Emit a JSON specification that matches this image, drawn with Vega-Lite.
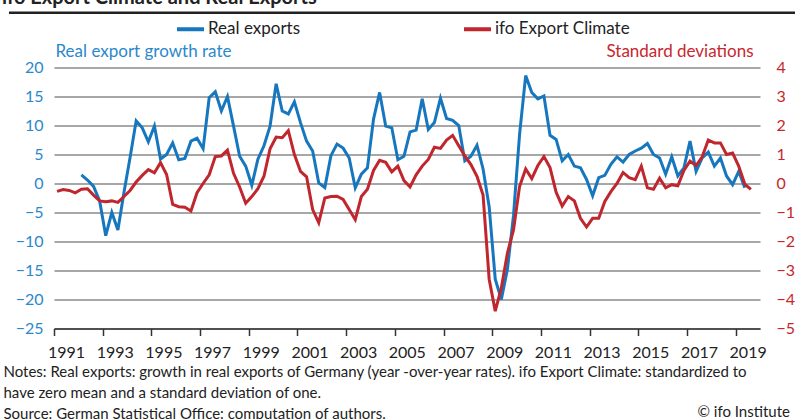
{
  "$schema": "https://vega.github.io/schema/vega-lite/v6.json",
  "width": 706,
  "height": 261,
  "autosize": {"type": "none"},
  "padding": {"left": 54, "top": 67.5, "right": 35, "bottom": 90.5},
  "background": "white",
  "config": {"font": "Lato", "view": {"stroke": null}, "axis": {"labelOverlap": false}},
  "datasets": {
    "series": [
    {"t": 1991.125, "clim": -0.27},
    {"t": 1991.375, "clim": -0.21},
    {"t": 1991.625, "clim": -0.24},
    {"t": 1991.875, "clim": -0.32},
    {"t": 1992.125, "exp": 1.5, "clim": -0.2},
    {"t": 1992.375, "exp": 0.6, "clim": -0.18},
    {"t": 1992.625, "exp": -0.5, "clim": -0.4},
    {"t": 1992.875, "exp": -3.0, "clim": -0.6},
    {"t": 1993.125, "exp": -9.0, "clim": -0.63},
    {"t": 1993.375, "exp": -5.0, "clim": -0.6},
    {"t": 1993.625, "exp": -8.0, "clim": -0.65},
    {"t": 1993.875, "exp": -1.5, "clim": -0.45},
    {"t": 1994.125, "exp": 4.5, "clim": -0.24},
    {"t": 1994.375, "exp": 10.8, "clim": 0.05},
    {"t": 1994.625, "exp": 9.6, "clim": 0.28},
    {"t": 1994.875, "exp": 7.2, "clim": 0.48},
    {"t": 1995.125, "exp": 9.9, "clim": 0.37},
    {"t": 1995.375, "exp": 4.2, "clim": 0.72},
    {"t": 1995.625, "exp": 5.0, "clim": 0.31},
    {"t": 1995.875, "exp": 7.0, "clim": -0.72},
    {"t": 1996.125, "exp": 4.1, "clim": -0.8},
    {"t": 1996.375, "exp": 4.3, "clim": -0.82},
    {"t": 1996.625, "exp": 7.3, "clim": -0.95},
    {"t": 1996.875, "exp": 7.8, "clim": -0.32},
    {"t": 1997.125, "exp": 6.0, "clim": 0.0},
    {"t": 1997.375, "exp": 14.8, "clim": 0.3},
    {"t": 1997.625, "exp": 15.8, "clim": 0.93},
    {"t": 1997.875, "exp": 12.5, "clim": 0.95},
    {"t": 1998.125, "exp": 15.0, "clim": 1.15},
    {"t": 1998.375, "exp": 9.9, "clim": 0.35},
    {"t": 1998.625, "exp": 4.7, "clim": -0.12},
    {"t": 1998.875, "exp": 3.0, "clim": -0.68},
    {"t": 1999.125, "exp": -0.3, "clim": -0.45},
    {"t": 1999.375, "exp": 4.2, "clim": -0.18},
    {"t": 1999.625, "exp": 6.5, "clim": 0.25},
    {"t": 1999.875, "exp": 9.9, "clim": 1.2},
    {"t": 2000.125, "exp": 17.2, "clim": 1.6},
    {"t": 2000.375, "exp": 12.5, "clim": 1.58},
    {"t": 2000.625, "exp": 12.0, "clim": 1.82},
    {"t": 2000.875, "exp": 14.1, "clim": 1.0},
    {"t": 2001.125, "exp": 10.5, "clim": 0.42},
    {"t": 2001.375, "exp": 7.3, "clim": 0.23},
    {"t": 2001.625, "exp": 5.6, "clim": -0.9},
    {"t": 2001.875, "exp": 0.1, "clim": -1.35},
    {"t": 2002.125, "exp": -0.7, "clim": -0.5},
    {"t": 2002.375, "exp": 4.8, "clim": -0.45},
    {"t": 2002.625, "exp": 6.8, "clim": -0.44},
    {"t": 2002.875, "exp": 6.1, "clim": -0.55},
    {"t": 2003.125, "exp": 4.4, "clim": -0.9},
    {"t": 2003.375, "exp": -0.75, "clim": -1.25},
    {"t": 2003.625, "exp": 1.6, "clim": -0.45},
    {"t": 2003.875, "exp": 2.7, "clim": -0.2},
    {"t": 2004.125, "exp": 11.1, "clim": 0.45},
    {"t": 2004.375, "exp": 15.7, "clim": 0.8},
    {"t": 2004.625, "exp": 9.9, "clim": 0.73},
    {"t": 2004.875, "exp": 9.6, "clim": 0.4},
    {"t": 2005.125, "exp": 4.1, "clim": 0.6},
    {"t": 2005.375, "exp": 4.7, "clim": 0.1},
    {"t": 2005.625, "exp": 8.9, "clim": -0.12},
    {"t": 2005.875, "exp": 9.2, "clim": 0.3},
    {"t": 2006.125, "exp": 14.6, "clim": 0.6},
    {"t": 2006.375, "exp": 9.3, "clim": 0.83},
    {"t": 2006.625, "exp": 10.5, "clim": 1.25},
    {"t": 2006.875, "exp": 14.7, "clim": 1.21},
    {"t": 2007.125, "exp": 11.2, "clim": 1.5},
    {"t": 2007.375, "exp": 10.9, "clim": 1.66},
    {"t": 2007.625, "exp": 10.0, "clim": 1.3},
    {"t": 2007.875, "exp": 3.9, "clim": 0.95},
    {"t": 2008.125, "exp": 4.7, "clim": 0.65},
    {"t": 2008.375, "exp": 6.6, "clim": 0.25},
    {"t": 2008.625, "exp": 2.5, "clim": -0.4},
    {"t": 2008.875, "exp": -4.0, "clim": -3.3},
    {"t": 2009.125, "exp": -16.5, "clim": -4.4},
    {"t": 2009.375, "exp": -20.0, "clim": -3.6},
    {"t": 2009.625, "exp": -14.8, "clim": -2.4},
    {"t": 2009.875, "exp": -5.5, "clim": -1.6},
    {"t": 2010.125, "exp": 8.5, "clim": -0.1},
    {"t": 2010.375, "exp": 18.6, "clim": 0.5},
    {"t": 2010.625, "exp": 15.7, "clim": 0.17},
    {"t": 2010.875, "exp": 14.6, "clim": 0.62},
    {"t": 2011.125, "exp": 15.1, "clim": 0.93},
    {"t": 2011.375, "exp": 8.3, "clim": 0.55},
    {"t": 2011.625, "exp": 7.6, "clim": -0.3},
    {"t": 2011.875, "exp": 3.9, "clim": -0.78},
    {"t": 2012.125, "exp": 5.0, "clim": -0.45},
    {"t": 2012.375, "exp": 3.0, "clim": -0.6},
    {"t": 2012.625, "exp": 2.7, "clim": -1.2},
    {"t": 2012.875, "exp": 0.7, "clim": -1.5},
    {"t": 2013.125, "exp": -2.1, "clim": -1.2},
    {"t": 2013.375, "exp": 1.0, "clim": -1.2},
    {"t": 2013.625, "exp": 1.4, "clim": -0.62},
    {"t": 2013.875, "exp": 3.3, "clim": -0.28},
    {"t": 2014.125, "exp": 4.6, "clim": 0.0},
    {"t": 2014.375, "exp": 3.7, "clim": 0.38},
    {"t": 2014.625, "exp": 5.0, "clim": 0.2},
    {"t": 2014.875, "exp": 5.6, "clim": 0.13},
    {"t": 2015.125, "exp": 6.1, "clim": 0.6},
    {"t": 2015.375, "exp": 6.9, "clim": -0.15},
    {"t": 2015.625, "exp": 5.0, "clim": -0.2},
    {"t": 2015.875, "exp": 4.4, "clim": 0.18},
    {"t": 2016.125, "exp": 1.6, "clim": -0.15},
    {"t": 2016.375, "exp": 4.6, "clim": -0.04},
    {"t": 2016.625, "exp": 1.3, "clim": -0.08},
    {"t": 2016.875, "exp": 2.7, "clim": 0.45},
    {"t": 2017.125, "exp": 7.3, "clim": 0.77},
    {"t": 2017.375, "exp": 2.1, "clim": 0.62},
    {"t": 2017.625, "exp": 4.4, "clim": 0.92},
    {"t": 2017.875, "exp": 5.4, "clim": 1.5},
    {"t": 2018.125, "exp": 3.0, "clim": 1.4},
    {"t": 2018.375, "exp": 4.4, "clim": 1.4},
    {"t": 2018.625, "exp": 1.3, "clim": 1.0},
    {"t": 2018.875, "exp": -0.2, "clim": 1.05},
    {"t": 2019.125, "exp": 2.1, "clim": 0.6},
    {"t": 2019.375, "exp": -0.75, "clim": -0.02},
    {"t": 2019.625, "clim": -0.2}
    ],
    "copyright": [{"label": "© ifo Institute"}],
    "heading": [{"label": "ifo Export Climate and Real Exports"}]
  },
  "data": {"name": "series"},
  "layer": [
    {
      "mark": {"type": "line", "strokeWidth": 3},
      "encoding": {
        "x": {
          "field": "t", "type": "quantitative",
          "scale": {"domain": [1991, 2020], "nice": false, "zero": false},
          "axis": {
            "values": [1991,1992,1993,1994,1995,1996,1997,1998,1999,2000,2001,2002,2003,2004,2005,2006,2007,2008,2009,2010,2011,2012,2013,2014,2015,2016,2017,2018,2019,2020],
            "labelExpr": "(datum.value % 2 == 1 && datum.value < 2020) ? toString(datum.value) : ''",
            "labelOffset": 12,
            "labelFlush": false,
            "labelOverlap": false,
            "labelBound": false,
            "labelFontSize": 16,
            "labelColor": "#222222",
            "labelPadding": 9,
            "tickColor": "#333333",
            "tickSize": 7,
            "tickWidth": 1.5,
            "domainColor": "#333333",
            "domainWidth": 1.5,
            "grid": false,
            "title": ["Notes: Real exports: growth in real exports of Germany (year -over-year rates). ifo Export Climate: standardized to", "have zero mean and a standard deviation of one.", "Source: German Statistical Office: computation of authors."],
            "titleAnchor": "start",
            "titleAlign": "left",
            "titleX": -51,
            "titleY": 48,
            "titleBaseline": "alphabetic",
            "titleFontSize": 15,
            "titleFontWeight": "normal",
            "titleColor": "#222222",
            "titleLineHeight": 21
          }
        },
        "y": {
          "field": "exp", "type": "quantitative",
          "scale": {"domain": [-25, 20], "nice": false, "zero": false},
          "axis": {
            "orient": "left",
            "values": [-25,-20,-15,-10,-5,0,5,10,15,20],
            "labelOverlap": false,
            "grid": true, "gridColor": "#8a8a8a", "gridWidth": 1.3,
            "domain": false, "ticks": false,
            "labelColor": "#2a88cb", "labelFontSize": 16, "labelPadding": 11,
            "title": "Real export growth rate",
            "titleAngle": 0, "titleAlign": "left", "titleBaseline": "alphabetic",
            "titleX": 1, "titleY": -11,
            "titleColor": "#2a88cb", "titleFontSize": 17, "titleFontWeight": "normal"
          }
        },
        "color": {
          "datum": "Real exports", "type": "nominal",
          "scale": {"domain": ["Real exports", "ifo Export Climate"], "range": ["#1677be", "#c0262d"]},
          "legend": {
            "orient": "none", "legendX": 121, "legendY": -54, "direction": "horizontal",
            "title": null, "symbolType": "stroke", "symbolStrokeWidth": 4, "symbolSize": 729,
            "labelFontSize": 17, "labelColor": "#222222", "labelOffset": 2, "columnPadding": 155, "padding": 0
          }
        }
      }
    },
    {
      "mark": {"type": "line", "strokeWidth": 3},
      "encoding": {
        "x": {"field": "t", "type": "quantitative"},
        "y": {
          "field": "clim", "type": "quantitative",
          "scale": {"domain": [-5, 4], "nice": false, "zero": false},
          "axis": {
            "orient": "right",
            "values": [-5,-4,-3,-2,-1,0,1,2,3,4],
            "labelOverlap": false,
            "grid": false, "domain": false, "ticks": false,
            "labelColor": "#c8262e", "labelFontSize": 16, "labelPadding": 16,
            "title": "Standard deviations",
            "titleAngle": 0, "titleAlign": "right", "titleBaseline": "alphabetic",
            "titleX": -7, "titleY": -11,
            "titleColor": "#c8262e", "titleFontSize": 17, "titleFontWeight": "normal"
          }
        },
        "color": {"datum": "ifo Export Climate", "type": "nominal"}
      }
    },
    {
      "data": {"name": "heading"},
      "mark": {"type": "rule", "color": "#222222", "strokeWidth": 2.5},
      "encoding": {
        "x": {"datum": 1989.15, "type": "quantitative"},
        "x2": {"datum": 2022.5},
        "y": {"datum": 29.45, "type": "quantitative", "scale": {"domain": [-25, 20], "nice": false, "zero": false}, "axis": null}
      }
    },
    {
      "data": {"name": "heading"},
      "mark": {"type": "text", "align": "left", "baseline": "alphabetic", "fontSize": 20, "fontWeight": "bold", "color": "#222222"},
      "encoding": {
        "text": {"field": "label", "type": "nominal"},
        "x": {"datum": 1988.86, "type": "quantitative"},
        "y": {"datum": 30.95, "type": "quantitative", "scale": {"domain": [-25, 20], "nice": false, "zero": false}, "axis": null}
      }
    },
    {
      "data": {"name": "copyright"},
      "mark": {"type": "text", "align": "right", "baseline": "alphabetic", "fontSize": 15, "color": "#222222"},
      "encoding": {
        "text": {"field": "label", "type": "nominal"},
        "x": {"datum": 2021.23, "type": "quantitative"},
        "y": {"datum": -40.2, "type": "quantitative", "scale": {"domain": [-25, 20], "nice": false, "zero": false}, "axis": null}
      }
    }
  ],
  "resolve": {"scale": {"y": "independent"}, "axis": {"y": "independent"}}
}
